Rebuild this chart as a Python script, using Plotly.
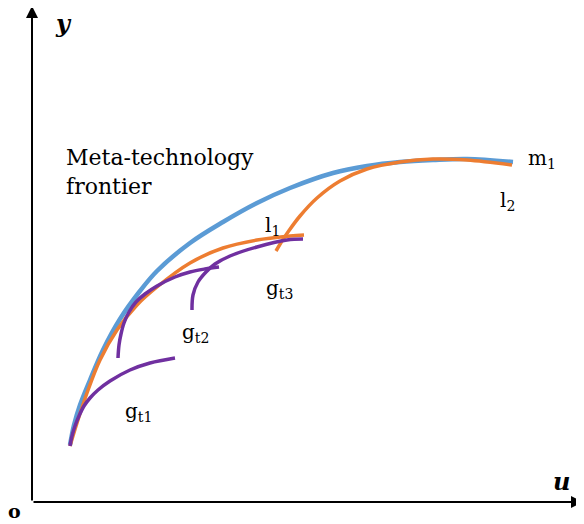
import plotly.graph_objects as go

# Curve data (u = output axis, y = vertical axis)
m1_u = [38, 42, 48, 58, 71, 88, 108, 125, 158, 191, 225, 258, 301, 335, 368, 401, 435, 481]
m1_y = [57, 77, 97, 122, 152, 183, 211, 231, 259, 280, 299, 314, 329, 336, 340, 342, 343, 340]

l1_u = [38, 45, 55, 68, 85, 105, 125, 158, 191, 225, 258, 272]
l1_y = [56, 79, 109, 142, 172, 197, 215, 239, 254, 262, 266, 267]

l2_u = [244, 250, 256, 268, 285, 308, 335, 368, 401, 435, 480]
l2_y = [251, 261, 270, 286, 304, 321, 333, 340, 343, 342, 337]

gt1_u = [38, 40, 43, 47, 52, 58, 66, 78, 98, 118, 143]
gt1_y = [56, 66, 76, 86, 96, 104, 112, 121, 132, 139, 144]

gt2_u = [86, 87, 89, 92, 97, 104, 113, 125, 143, 158, 173, 187]
gt2_y = [144, 157, 168, 179, 190, 200, 208, 216, 225, 230, 233, 235]

gt3_u = [160, 161, 166, 174, 183, 198, 225, 255, 271]
gt3_y = [192, 207, 220, 230, 238, 246, 255, 262, 263]

BLUE = "#5B9BD5"
ORANGE = "#ED7D31"
PURPLE = "#7030A0"
FONT = "DejaVu Serif"

fig = go.Figure()

def curve(u, y, color, width):
    fig.add_trace(go.Scatter(x=u, y=y, mode="lines",
                             line=dict(color=color, width=width, shape="spline", smoothing=1.0),
                             hoverinfo="skip", showlegend=False))

curve(m1_u, m1_y, BLUE, 4.5)
curve(l1_u, l1_y, ORANGE, 3.5)
curve(l2_u, l2_y, ORANGE, 3.5)
curve(gt1_u, gt1_y, PURPLE, 3.5)
curve(gt2_u, gt2_y, PURPLE, 3.5)
curve(gt3_u, gt3_y, PURPLE, 3.5)

# axes with arrows
for tip in [(551, 0), (0, 496)]:
    fig.add_annotation(x=tip[0], y=tip[1], ax=0, ay=0, xref="x", yref="y",
                       axref="x", ayref="y", text="", showarrow=True,
                       arrowhead=2, arrowsize=1.2, arrowwidth=2, arrowcolor="black")

def label(text, x, y, size=20, xanchor="left", **fkw):
    fig.add_annotation(x=x, y=y, xref="x", yref="y", text=text, showarrow=False,
                       xanchor=xanchor, yanchor="middle", align="left",
                       font=dict(family=FONT, size=size, color="black", **fkw))

label("y", 31, 479, size=24, xanchor="center", weight="bold", style="italic")
label("u", 529, 21, size=24, xanchor="center", weight="bold", style="italic")
label("o", -18, -9, size=19, xanchor="center", weight="bold")
label("Meta-technology<br>frontier", 32, 330, size=22)
label("m<sub>1</sub>", 494, 343, size=20)
label("l<sub>2</sub>", 466, 301, size=20)
label("l<sub>1</sub>", 231, 276, size=20)
label("g<sub>t3</sub>", 232, 213, size=20)
label("g<sub>t2</sub>", 148, 169, size=20)
label("g<sub>t1</sub>", 91, 90, size=20)

# page body has an 8px margin: size the figure to the visible 576x516 area
fig.update_layout(
    width=576, height=516,
    margin=dict(l=0, r=0, t=0, b=0),
    paper_bgcolor="white", plot_bgcolor="white",
    xaxis=dict(range=[-24, 552], visible=False, fixedrange=True),
    yaxis=dict(range=[-22, 494], visible=False, fixedrange=True),
    showlegend=False,
)

fig.write_html("out.html")
